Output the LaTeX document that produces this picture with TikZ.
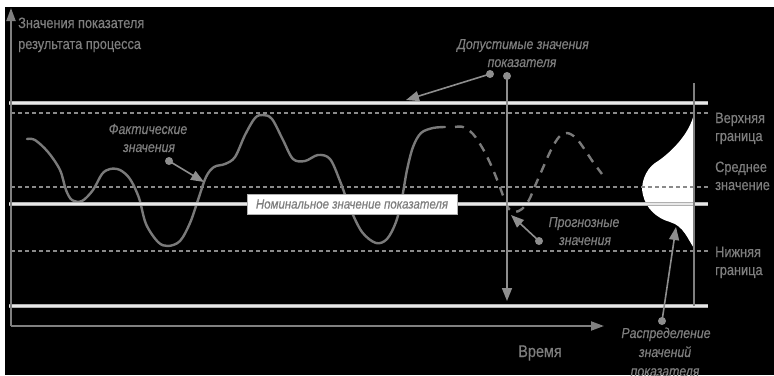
\documentclass[tikz,border=0pt]{standalone}
\usepackage{fontspec}
\setmainfont{Liberation Sans}
\newfontfamily\cfont{Liberation Sans}[FakeStretch=0.85, FakeBold=0.4]
\usetikzlibrary{arrows.meta}

\definecolor{axisgray}{HTML}{808080}
\definecolor{limitedge}{HTML}{B0B0B0}
\definecolor{limitcore}{HTML}{E8E8E8}
\definecolor{dashgray}{HTML}{8A8A8A}
\definecolor{curvegray}{HTML}{7A7A7A}
\definecolor{textgray}{HTML}{7E7E7E}
\definecolor{pointgray}{HTML}{8E8E8E}

\tikzset{
  axis/.style={draw=axisgray, line width=2pt, -{Triangle[length=13pt,width=9pt]}},
  limitline/.style={draw=limitedge, line width=1pt, double=limitcore, double distance=1.6pt},
  levelline/.style={draw=dashgray, line width=1.3pt, dash pattern=on 4pt off 3pt},
  actual/.style={draw=curvegray, line width=2.4pt, line cap=round, line join=round},
  forecast/.style={actual, dash pattern=on 9pt off 7pt, line cap=butt},
  callout/.style={draw=pointgray, line width=1.6pt, -{Triangle[length=13pt,width=10pt]}},
  pin/.style={circle, fill=pointgray, inner sep=0pt, minimum size=8pt},
  uplabel/.style={text=textgray, inner sep=0pt, font=\cfont\fontsize{15}{17}\selectfont},
  itlabel/.style={text=textgray, inner sep=0pt, font=\cfont\itshape\fontsize{14.5}{16}\selectfont},
}

\begin{document}
\begin{tikzpicture}[x=1pt, y=-1pt]
\useasboundingbox (0,0) rectangle (774,375);
% paper and dark field
\fill[white] (0,0) rectangle (774,375);
\fill[black] (5,7) rectangle (774,375);

% key points of the chart frame
\coordinate (origin) at (11,326);
\coordinate (ytip) at (11,8);
\coordinate (xtip) at (604,326);
\coordinate (ul-l) at (9,103);  \coordinate (ul-r) at (708,103);
\coordinate (nm-l) at (9,204);  \coordinate (nm-r) at (708,204);
\coordinate (ll-l) at (9,306);  \coordinate (ll-r) at (708,306);
\coordinate (ub-l) at (11,113); \coordinate (ub-r) at (708,113);
\coordinate (mn-l) at (11,187); \coordinate (mn-r) at (708,187);
\coordinate (lb-l) at (11,251); \coordinate (lb-r) at (708,251);
\coordinate (dist-top) at (694,83);
\coordinate (dist-bot) at (694,306);

% distribution of the indicator values
\fill[white] (694,113) .. controls (690,135) and (668,155) .. (655,163)
  .. controls (645,170) and (640,185) .. (643,195)
  .. controls (646,208) and (656,218) .. (670,222)
  .. controls (684,226) and (688,240) .. (694,248) -- cycle;

% levels
\draw[levelline] (ub-l) -- (ub-r);
\draw[levelline] (mn-l) -- (mn-r);
\draw[levelline] (lb-l) -- (lb-r);

% actual values
\draw[actual] plot[smooth, tension=0.55] coordinates {
  (27,139) (35,140) (48,152) (60,170) (66,190) (72,200) (82,201) (93,190)
  (102,174) (110,169) (120,170) (130,179) (139,198) (146,224) (158,242)
  (168,246) (180,241) (190,223) (198,200) (206,177) (214,167) (225,164)
  (235,157) (245,135) (255,118) (263,115) (272,119) (283,140) (293,159)
  (305,161) (318,155) (330,159) (340,181) (350,208) (362,232) (376,243)
  (387,239) (396,222) (402,198) (407,170) (413,147) (421,133) (433,128) (445,127)};

% forecast values
\draw[forecast] plot[smooth, tension=0.55] coordinates {
  (455,127) (463,127) (473,134) (483,149) (491,165) (498,182) (504,198)
  (509,209) (515,212) (522,209) (529,200) (535,186) (542,170) (551,150)
  (559,137) (567,133) (576,138) (585,150) (593,162) (602,174)};

% limit lines
\draw[limitline] (ul-l) -- (ul-r);
\draw[limitline] (nm-l) -- (nm-r);
\draw[limitline] (ll-l) -- (ll-r);

% distribution baseline
\draw[draw=axisgray, line width=1.5pt] (dist-top) -- (dist-bot);

% axes
\draw[axis] (origin) -- (ytip);
\draw[axis] (origin) -- (xtip);

% nominal value tag
\node[draw=limitedge, fill=white, line width=0.8pt, minimum height=20pt,
      minimum width=210pt, inner xsep=0pt, inner ysep=0pt, text=textgray,
      font=\cfont\itshape\fontsize{13.5}{15}\selectfont] (nominal) at (352,204)
  {Номинальное значение показателя};

% axis titles
\node[uplabel, anchor=base west] (ytitle-a) at (18,28) {Значения показателя};
\node[uplabel, anchor=base west] (ytitle-b) at (18,49) {результата процесса};
\node[uplabel, anchor=base, font=\cfont\fontsize{17}{19}\selectfont] (xtitle) at (540,357) {Время};

% right-hand level labels
\node[uplabel, anchor=base west] (up-a) at (715,123) {Верхняя};
\node[uplabel, anchor=base west] (up-b) at (715,141) {граница};
\node[uplabel, anchor=base west] (mean-a) at (715,172) {Среднее};
\node[uplabel, anchor=base west] (mean-b) at (715,190) {значение};
\node[uplabel, anchor=base west] (low-a) at (715,257) {Нижняя};
\node[uplabel, anchor=base west] (low-b) at (715,275) {граница};

% allowed values callout
\node[itlabel, anchor=base] (allow-a) at (523,49) {Допустимые значения};
\node[itlabel, anchor=base] (allow-b) at (522,67) {показателя};
\node[pin] (allow-pin) at (490,74) {};
\coordinate (allow-tip) at (406,100);
\draw[callout] (allow-pin.center) -- (allow-tip);
\node[pin] (range-pin) at (507,76) {};
\coordinate (range-tip) at (507,301);
\draw[callout] (range-pin.center) -- (range-tip);

% actual values callout
\node[itlabel, anchor=base] (fact-a) at (148,134) {Фактические};
\node[itlabel, anchor=base] (fact-b) at (149,152) {значения};
\node[pin] (fact-pin) at (169,161) {};
\coordinate (fact-tip) at (204,182);
\draw[callout] (fact-pin.center) -- (fact-tip);

% forecast callout
\node[itlabel, anchor=base] (fc-a) at (584,227) {Прогнозные};
\node[itlabel, anchor=base] (fc-b) at (585,245) {значения};
\node[pin] (fc-pin) at (539,241) {};
\coordinate (fc-tip) at (511,215);
\draw[callout] (fc-pin.center) -- (fc-tip);

% distribution callout
\node[pin] (dist-pin) at (662,321) {};
\coordinate (dist-tip) at (676,227);
\draw[callout] (dist-pin.center) -- (dist-tip);
\node[itlabel, anchor=base] (dist-a) at (666,338) {Распределение};
\node[itlabel, anchor=base] (dist-b) at (665,357) {значений};
\node[itlabel, anchor=base] (dist-c) at (665,376) {показателя};
\end{tikzpicture}
\end{document}
